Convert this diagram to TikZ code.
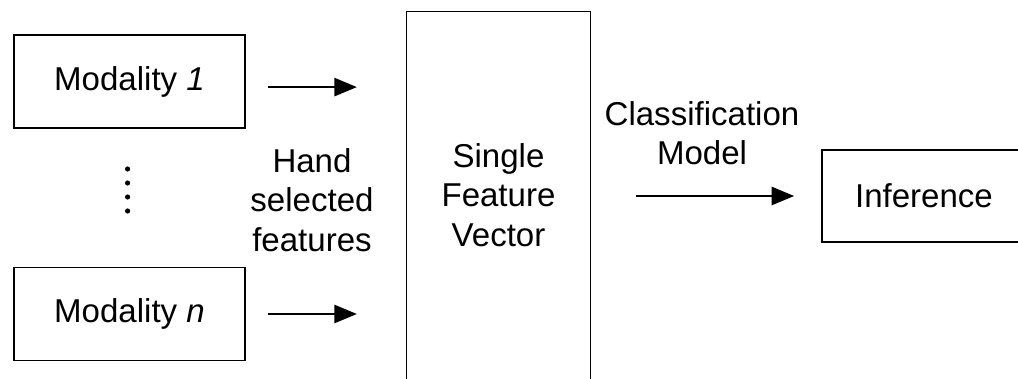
\documentclass[tikz,border=0pt]{standalone}
\usepackage{fontspec}
\setmainfont{Liberation Sans}
\usetikzlibrary{arrows.meta}

\begin{document}
\begin{tikzpicture}[
    box/.style={draw, line width=1.2pt, minimum width=5.775cm, minimum height=2.325cm},
    arr/.style={line width=1.2pt, -{Triangle[length=16pt,width=13pt]}}]
    \tikzstyle{every node}=[font=\fontsize{23.5}{28}\selectfont, align=center]
    \clip (0,0) rectangle (25.45,9.475);

    \node[box] (mod1) at (3.2375,7.4375) {Modality \textit{1}};
    \node[box] (modn) at (3.2375,1.625) {Modality \textit{n}};

    \foreach \y in {5.25,4.9,4.55,4.2}
        \fill (3.19,\y) circle (0.065);

    \node[box, minimum width=4.6cm, minimum height=10.2cm] (sfv) at (12.4625,4.09) {};
    \node (sfvtext) at (12.4625,4.6) {Single\\Feature\\Vector};

    \node[box, minimum width=5.1cm, minimum height=2.3cm] (inf) at (23.1,4.575) {Inference};

    \draw[arr, shorten <=0.55cm, shorten >=1.22cm] ([yshift=-0.14cm]mod1.east)
        -- ([yshift=-0.14cm]mod1.east -| sfv.west);
    \draw[arr, shorten <=0.55cm, shorten >=1.22cm] (modn.east) -- (modn.east -| sfv.west);
    \node (hand) at (7.8,4.475) {Hand\\selected\\features};

    \draw[arr, shorten <=1.12cm, shorten >=0.675cm] (sfv.east |- inf.west) -- (inf.west);
    \node (clf) at (17.55,6.15) {Classification\\Model};

\end{tikzpicture}
\end{document}
